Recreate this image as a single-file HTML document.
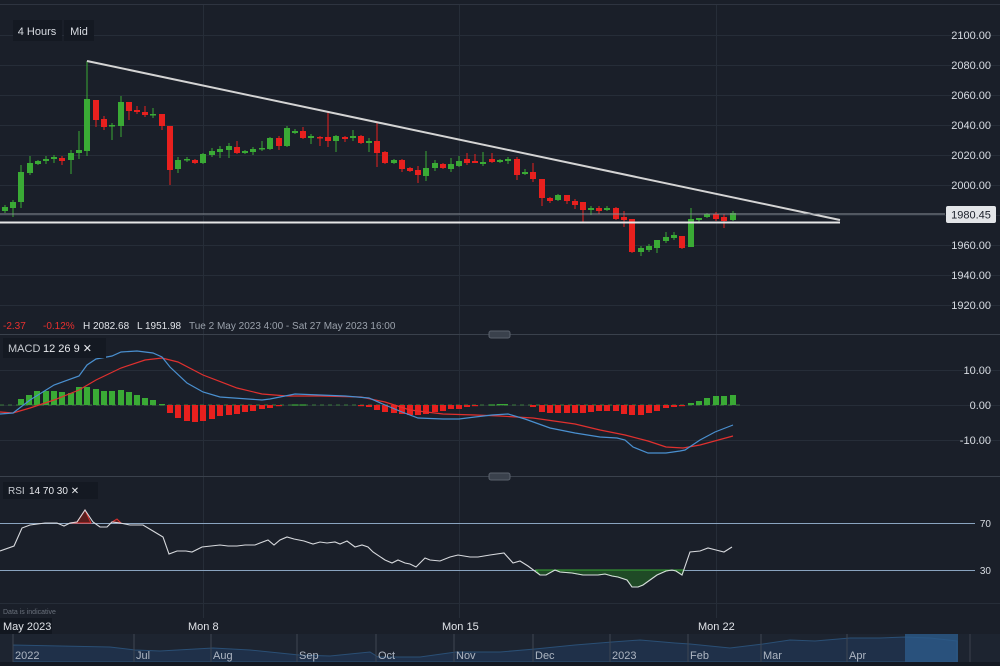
<!DOCTYPE html>
<html><head><meta charset="utf-8"><style>
html,body{margin:0;padding:0;background:#1a1f29;overflow:hidden}
svg{display:block;font-family:"Liberation Sans",sans-serif}
</style></head><body>
<svg id="s" width="1000" height="666" viewBox="0 0 1000 666" xmlns="http://www.w3.org/2000/svg">
<rect width="1000" height="666" fill="#1a1f29"/>
<line x1="0" y1="4.5" x2="1000" y2="4.5" stroke="#2e3440"/>
<g id="grid" stroke="#262d38" stroke-width="1"></g>
<g id="main"></g>
<line x1="87" y1="61" x2="840" y2="220" stroke="#d4d4d4" stroke-width="2"/>
<line x1="0" y1="222.5" x2="840" y2="222.5" stroke="#e6e6e6" stroke-width="2"/>
<line x1="0" y1="214" x2="945" y2="214" stroke="#8a9099" stroke-width="1"/>
<rect x="946" y="206" width="50" height="17" rx="2" fill="#e3e5e8"/>
<text x="971" y="218.5" font-size="11" fill="#1a1f29" text-anchor="middle">1980.45</text>
<rect x="13" y="20" width="49" height="21" fill="#141922"/>
<text x="37" y="35" font-size="11" fill="#d8dce2" text-anchor="middle">4 Hours</text>
<rect x="64" y="20" width="30" height="21" fill="#141922"/>
<text x="79" y="35" font-size="11" fill="#d8dce2" text-anchor="middle">Mid</text>
<g font-size="10">
<text x="3" y="329" fill="#e8302f">-2.37</text>
<text x="43" y="329" fill="#e8302f">-0.12%</text>
<text x="83" y="329" fill="#e0e3e8">H 2082.68</text>
<text x="137" y="329" fill="#e0e3e8">L 1951.98</text>
<text x="189" y="329" fill="#9aa1ab">Tue 2 May 2023 4:00 - Sat 27 May 2023 16:00</text>
</g>
<line x1="0" y1="334.5" x2="1000" y2="334.5" stroke="#3a414c"/>
<rect x="489" y="331" width="21" height="7" rx="2" fill="#3a414c" stroke="#5a616c"/>
<line x1="0" y1="476.5" x2="1000" y2="476.5" stroke="#3a414c"/>
<rect x="489" y="473" width="21" height="7" rx="2" fill="#3a414c" stroke="#5a616c"/>
<g id="macd"></g>
<rect x="3" y="338" width="103" height="20" fill="#141922"/>
<text x="8" y="352" font-size="11" fill="#c8ccd2">MACD</text>
<text x="43" y="352" font-size="11" fill="#e8eaee">12  26  9  ✕</text>
<g id="rsi"></g>
<rect x="3" y="482" width="95" height="17" fill="#141922"/>
<text x="8" y="494" font-size="10" fill="#c8ccd2">RSI</text>
<text x="29" y="494" font-size="10" fill="#e8eaee">14  70  30  ✕</text>
<g font-size="11" fill="#d8dce2" text-anchor="end" id="ax"></g>
<line x1="0" y1="603.5" x2="1000" y2="603.5" stroke="#262d38"/>
<text x="3" y="614" font-size="7" fill="#6a717c">Data is indicative</text>
<rect x="0" y="618" width="52" height="16" fill="#121720"/>
<g font-size="11" fill="#e0e3e8">
<text x="3" y="630">May 2023</text>
<text x="188" y="630">Mon 8</text>
<text x="442" y="630">Mon 15</text>
<text x="698" y="630">Mon 22</text>
</g>
<rect x="0" y="634" width="1000" height="30" fill="#1d2430"/>
<path id="nav" fill="#1f3049" stroke="#2a4f75" stroke-width="1"/>
<rect x="905" y="634" width="53" height="28" fill="#2c5a8a" opacity="0.8"/>
<g id="navt" font-size="11" fill="#aeb6c2"></g>
<line x1="970" y1="634" x2="970" y2="662" stroke="#3a414c"/>
<rect x="0" y="662" width="1000" height="4" fill="#141922"/>
</svg>
<script>
const NS="http://www.w3.org/2000/svg";
function el(p,t,a){const e=document.createElementNS(NS,t);for(const k in a)e.setAttribute(k,a[k]);p.appendChild(e);return e;}
const G=document.getElementById('grid');
for(let y=35;y<=305;y+=30)el(G,'line',{x1:0,y1:y+.5,x2:1000,y2:y+.5});
[370,405,440].forEach(y=>el(G,'line',{x1:0,y1:y+.5,x2:1000,y2:y+.5}));
[203,459,716].forEach(x=>el(G,'line',{x1:x+.5,y1:5,x2:x+.5,y2:618}));
const AX=document.getElementById('ax');
const lbl=[[2100,39],[2080,69],[2060,99],[2040,129],[2020,159],[2000,189],[1960,249],[1940,279],[1920,309]];
lbl.forEach(l=>{const t=el(AX,'text',{x:991,y:l[1]});t.textContent=l[0].toFixed(2);});
[["10.00",374],["0.00",409],["-10.00",444]].forEach(l=>{const t=el(AX,'text',{x:991,y:l[1]});t.textContent=l[0];});
[["70",527],["30",574]].forEach(l=>{const t=el(AX,'text',{x:991,y:l[1],'font-size':10});t.textContent=l[0];});
const C=[[5,'G',207,211,205,213],[13,'G',202,208,200,217],[21,'G',172,202,165,208],[30,'G',163,173,156,175],[38,'G',161,164,160,165],[46,'G',159,161,156,164],[54,'G',157,159,155,163],[62,'R',158,161,156,165],[71,'G',153,160,150,174],[79,'G',150,153,131,159],[87,'G',99,151,61,156],[96,'R',100,120,100,127],[104,'R',119,127,116,130],[112,'G',125,126,123,140],[121,'G',102,126,96,137],[129,'R',102,111,102,120],[137,'R',110,112,106,114],[145,'R',112,115,106,117],[153,'G',114,115,108,118],[162,'R',114,126,114,130],[170,'R',126,170,126,185],[178,'G',160,169,157,173],[187,'G',159,160,157,162],[195,'R',160,163,159,164],[203,'G',154,163,153,164],[212,'G',151,155,148,157],[220,'G',149,152,146,158],[229,'G',146,150,143,158],[237,'R',147,153,141,154],[245,'G',151,153,150,154],[253,'G',149,152,147,155],[262,'G',148,149,141,151],[270,'G',138,149,137,150],[279,'R',138,146,136,150],[287,'G',128,146,126,147],[295,'G',131,133,129,134],[303,'R',131,138,127,139],[311,'G',136,138,134,144],[320,'R',137,138,136,146],[328,'R',137,141,112,147],[336,'G',136,141,135,152],[345,'R',137,139,136,142],[353,'G',136,138,130,141],[361,'R',136,143,135,144],[369,'G',141,143,138,152],[377,'R',141,153,123,167],[385,'R',152,163,151,164],[394,'G',160,163,159,164],[402,'R',160,169,159,172],[410,'R',168,171,167,172],[418,'R',170,175,166,183],[426,'G',168,176,151,181],[435,'G',163,168,160,171],[443,'R',164,168,163,169],[451,'G',164,169,158,172],[459,'G',161,166,156,167],[467,'R',159,163,153,165],[475,'R',161,163,154,163],[483,'G',162,164,152,166],[492,'R',159,162,153,163],[500,'G',160,162,159,163],[508,'G',159,161,157,164],[517,'R',159,175,157,180],[525,'G',172,174,169,175],[533,'R',172,179,163,182],[542,'R',179,198,179,206],[550,'R',198,201,197,203],[558,'G',195,200,194,201],[567,'R',195,201,195,204],[575,'R',201,205,199,209],[583,'R',202,210,202,222],[591,'G',208,210,206,215],[599,'R',208,211,206,214],[607,'G',208,210,206,211],[616,'R',208,219,207,220],[624,'R',217,220,211,227],[632,'R',219,252,219,253],[641,'G',248,252,246,256],[649,'G',246,250,244,252],[657,'G',240,248,240,253],[666,'G',237,241,232,243],[674,'G',235,238,232,240],[682,'R',236,248,236,249],[691,'G',219,247,208,247],[699,'G',218,220,218,223],[707,'G',214,217,213,218],[716,'R',214,219,212,221],[724,'R',217,221,214,228],[733,'G',213,220,211,221]];
const M=document.getElementById('main');
C.forEach(c=>{const col=c[1]=='G'?'#3aaa35':'#e8201e';
el(M,'line',{x1:c[0],y1:c[4],x2:c[0],y2:c[5],stroke:col,'stroke-width':1});
el(M,'rect',{x:c[0]-3,y:c[2],width:6,height:Math.max(1.5,c[3]-c[2]),fill:col});});
const H={21:6,29:10,37:14,46:14,54:14,62:13,71:12,79:18,87:18,96:16,104:14,112:14,121:15,129:13,137:10,145:7,153:5,162:1,170:-8,178:-13,187:-16,195:-17,203:-16,212:-14,220:-11,229:-10,237:-9,245:-7,253:-6,262:-4,270:-3,279:-1,295:.6,303:.6,361:-1,369:-2,377:-5,385:-7,394:-8,402:-9,410:-10,418:-10,426:-9,435:-7,443:-6,451:-4,459:-4,467:-2,475:-1,492:.6,500:1,505:1,533:-2,542:-7,550:-8,558:-8,567:-8,575:-8,583:-8,591:-7,599:-6,607:-6,616:-6,624:-9,632:-10,641:-10,649:-8,657:-6,666:-3,674:-2,682:-1,691:2,699:4,707:7,716:9,724:9,733:10};
const MG=document.getElementById('macd');
el(MG,'line',{x1:0,y1:405,x2:740,y2:405,stroke:'#3a7a3a','stroke-dasharray':'4 4'});
for(const k in H){const v=H[k],x=+k;const col=v>0?'#3aaa35':'#e8201e';
el(MG,'rect',{x:x-3,y:v>0?405-v:405,width:6,height:Math.max(1.2,Math.abs(v)),fill:col});}
const blue=[[0,414],[13,413],[30,400],[54,385],[79,376],[87,365],[96,359],[112,356],[121,352],[137,351],[153,353],[162,357],[170,367],[187,383],[203,392],[220,397],[262,400],[270,399],[295,394],[320,395],[345,396],[369,398],[385,405],[402,412],[418,418],[443,419],[459,419],[475,417],[492,415],[508,414],[525,419],[550,428],[575,433],[600,437],[617,438],[625,440],[633,447],[648,453],[666,453],[680,451],[685,450],[700,440],[715,432],[733,425]];
const red=[[0,412],[13,413],[30,408],[54,400],[79,390],[96,380],[121,368],[145,360],[162,358],[178,362],[203,375],[237,388],[262,394],[287,396],[320,396],[361,397],[385,402],[410,410],[443,414],[475,415],[500,416],[533,418],[575,424],[600,430],[625,435],[648,441],[666,447],[683,448],[700,445],[733,436]];
el(MG,'polyline',{points:red.join(' '),fill:'none',stroke:'#e0302e','stroke-width':1.2});
el(MG,'polyline',{points:blue.join(' '),fill:'none',stroke:'#4a90d0','stroke-width':1.2});
const R=document.getElementById('rsi');
el(R,'line',{x1:0,y1:523.5,x2:975,y2:523.5,stroke:'#8aa4c0'});
el(R,'line',{x1:0,y1:570.5,x2:975,y2:570.5,stroke:'#8aa4c0'});
const rp=[[0,551],[14,546],[22,528],[30,525],[45,523],[57,523],[64,526],[70,523],[77,522],[85,510],[93,522],[100,527],[107,527],[112,522],[120,523],[130,525],[143,525],[153,531],[163,537],[169,554],[177,551],[186,551],[192,552],[202,547],[220,545],[228,546],[237,546],[245,545],[255,545],[260,543],[268,540],[274,545],[280,540],[287,537],[294,539],[304,541],[313,544],[320,542],[327,543],[335,542],[340,544],[347,541],[355,547],[362,545],[368,547],[373,552],[385,560],[392,563],[398,560],[405,563],[410,564],[416,567],[420,563],[425,558],[430,560],[440,561],[450,557],[458,555],[470,557],[478,557],[490,555],[504,553],[513,563],[520,561],[528,566],[540,575],[546,575],[555,570],[560,572],[572,573],[583,575],[590,575],[598,575],[605,574],[612,576],[618,577],[627,580],[632,587],[638,587],[643,585],[650,580],[657,575],[666,571],[672,570],[676,571],[682,575],[690,552],[700,551],[708,548],[716,550],[724,552],[732,547]];
el(R,'path',{d:'M536,570 L540,575 546,575 555,570 560,572 572,573 583,575 590,575 598,575 605,574 612,576 618,577 627,580 632,587 638,587 643,585 650,580 657,575 666,571 672,570 676,571 682,575 684,570 Z',fill:'#1f4a26',stroke:'#3aaa35'});
el(R,'path',{d:'M70,523 L77,522 85,510 91,523 Z M112,522 L117,519 121,523 Z',fill:'#5a1d1d',stroke:'#e0302e'});
el(R,'polyline',{points:rp.join(' '),fill:'none',stroke:'#d8dade','stroke-width':1.1});
let d='M13,662 L13,645 ';const pts=[[13,645],[60,646],[110,647],[135,650],[160,651],[213,648],[250,650],[299,655],[330,656],[370,652],[378,657],[420,657],[456,652],[500,652],[535,649],[575,645],[612,642],[640,640],[675,643],[690,644],[730,648],[763,644],[790,640],[815,641],[850,638],[880,638],[905,637],[930,638],[957,641]];
pts.forEach(p=>d+='L'+p[0]+','+p[1]+' ');d+='L957,662 Z';
document.getElementById('nav').setAttribute('d',d);
const NT=document.getElementById('navt');
[[15,'2022'],[136,'Jul'],[213,'Aug'],[299,'Sep'],[378,'Oct'],[456,'Nov'],[535,'Dec'],[612,'2023'],[690,'Feb'],[763,'Mar'],[849,'Apr']].forEach(a=>{
el(NT,'line',{x1:a[0]-2,y1:634,x2:a[0]-2,y2:662,stroke:'#3e4652'});
const t=el(NT,'text',{x:a[0],y:659});t.textContent=a[1];});
</script>
</body></html>
